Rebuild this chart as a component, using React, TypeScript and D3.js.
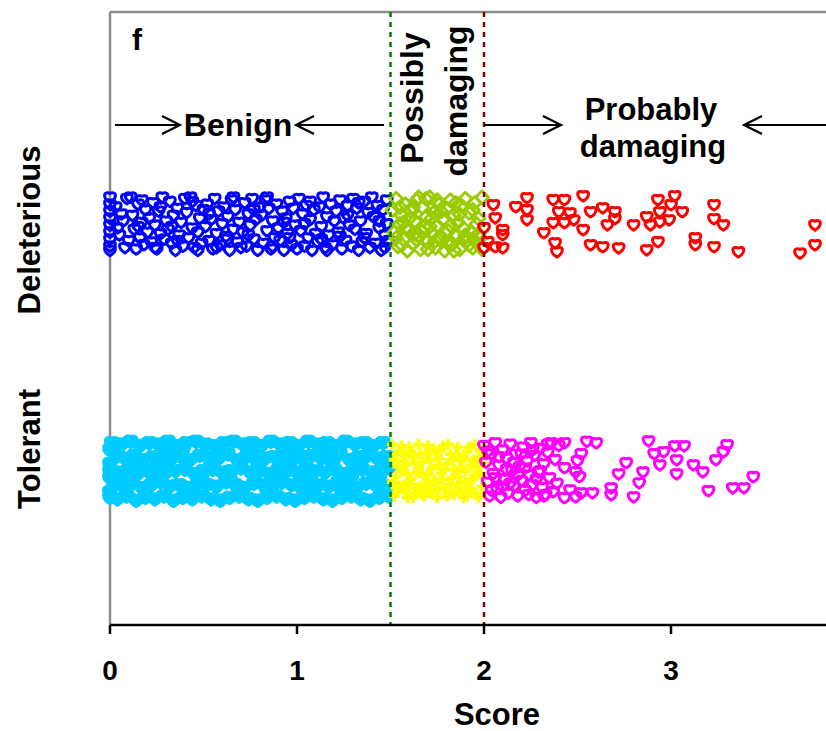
import React from "react";
import * as d3 from "d3";

// Score categories and groups
const GROUPS = ["Deleterious", "Tolerant"];
const X_TICKS = [0, 1, 2, 3];
const THRESH_POSSIBLY = 1.5;
const THRESH_PROBABLY = 2.0;

// [score, jitter] pairs, jitter in band units (-1..1)
const delBenign: [number, number][] = [
  [0,-0.95],[0,-0.7],[0,-0.45],[0,-0.2],[0,0.05],[0,0.3],[0,0.55],[0,0.8],[0,0.95],
  [0.03,-0.6],[0.05,0.4],[0.07,-0.1],[0.08,0.85],[0.09,-0.9],[0.04,0.15],[0.06,-0.35],[0.1,0.6],
  [0.11,-0.95],[0.12,-0.3],[0.13,0.2],[0.14,0.9],[0.15,-0.7],[0.16,0.5],[0.17,-0.05],[0.18,0.75],[0.19,-0.5],[0.2,0.3],[0.15,0.1],[0.17,-0.85],
  [0.21,-0.2],[0.22,0.65],[0.23,-0.75],[0.24,0.05],[0.25,0.9],[0.26,-0.45],[0.27,0.35],[0.28,-0.95],[0.29,0.55],[0.3,-0.1],[0.24,0.85],[0.27,-0.6],
  [0.31,0.2],[0.32,-0.8],[0.33,0.7],[0.34,-0.3],[0.35,0.95],[0.36,-0.55],[0.37,0.4],[0.38,-0.05],[0.39,0.8],[0.4,-0.9],[0.33,0.1],[0.36,0.6],
  [0.41,-0.4],[0.42,0.5],[0.43,-0.95],[0.44,0.15],[0.45,0.85],[0.46,-0.65],[0.47,0.3],[0.48,-0.2],[0.49,0.7],[0.5,-0.5],[0.44,-0.8],[0.47,0.95],
  [0.51,0.1],[0.52,-0.7],[0.53,0.6],[0.54,-0.15],[0.55,0.9],[0.56,-0.9],[0.57,0.35],[0.58,-0.45],[0.59,0.75],[0.6,0.0],[0.53,-0.35],[0.57,0.85],
  [0.61,-0.6],[0.62,0.45],[0.63,-0.25],[0.64,0.95],[0.65,-0.85],[0.66,0.2],[0.67,-0.5],[0.68,0.65],[0.69,-0.05],[0.7,0.85],[0.63,0.55],[0.66,-0.95],
  [0.71,0.3],[0.72,-0.75],[0.73,0.8],[0.74,-0.35],[0.75,0.05],[0.76,-0.9],[0.77,0.55],[0.78,-0.15],[0.79,0.95],[0.8,-0.6],[0.74,0.4],[0.77,-0.5],
  [0.81,-0.3],[0.82,0.7],[0.83,-0.85],[0.84,0.25],[0.85,-0.55],[0.86,0.9],[0.87,-0.1],[0.88,0.5],[0.89,-0.7],[0.9,0.15],[0.84,-0.95],[0.87,0.8],
  [0.91,0.6],[0.92,-0.45],[0.93,0.95],[0.94,-0.2],[0.95,0.35],[0.96,-0.8],[0.97,0.75],[0.98,-0.55],[0.99,0.05],[1.0,0.9],[0.93,-0.05],[0.96,0.5],
  [1.01,-0.9],[1.02,0.25],[1.03,-0.35],[1.04,0.8],[1.05,-0.65],[1.06,0.5],[1.07,-0.15],[1.08,0.95],[1.09,-0.5],[1.1,0.35],[1.04,0.0],[1.07,-0.8],
  [1.11,0.65],[1.12,-0.6],[1.13,0.1],[1.14,-0.95],[1.15,0.85],[1.16,-0.25],[1.17,0.4],[1.18,-0.7],[1.19,0.75],[1.2,-0.1],[1.13,0.55],[1.16,0.95],
  [1.21,-0.45],[1.22,0.3],[1.23,-0.85],[1.24,0.9],[1.25,-0.2],[1.26,0.6],[1.27,-0.65],[1.28,0.05],[1.29,0.8],[1.3,-0.9],[1.23,0.45],[1.27,-0.3],
  [1.31,0.2],[1.32,-0.55],[1.33,0.95],[1.34,-0.1],[1.35,0.65],[1.36,-0.8],[1.37,0.35],[1.38,-0.4],[1.39,0.85],[1.4,-0.95],[1.33,-0.75],[1.36,0.5],
  [1.41,-0.25],[1.42,0.7],[1.43,-0.65],[1.44,0.15],[1.45,0.95],[1.46,-0.5],[1.47,0.4],[1.48,-0.85],[1.49,0.6],[1.44,-0.1],[1.47,0.85],[1.48,0.0],
];

const delPossibly: [number, number][] = [
  [1.51,-0.5],[1.52,0.3],[1.53,-0.9],[1.54,0.8],[1.55,0.0],[1.56,-0.3],[1.57,0.55],[1.58,-0.7],[1.59,0.95],[1.6,0.2],
  [1.61,-0.45],[1.62,0.7],[1.63,-0.1],[1.64,-0.85],[1.65,0.4],[1.66,0.9],[1.67,-0.6],[1.68,0.1],[1.69,-0.25],[1.7,0.6],
  [1.71,-0.95],[1.72,0.35],[1.73,-0.4],[1.74,0.85],[1.75,0.05],[1.76,-0.7],[1.77,0.5],[1.78,-0.15],[1.79,0.95],[1.8,-0.55],
  [1.81,0.25],[1.82,-0.85],[1.83,0.7],[1.84,-0.3],[1.85,0.45],[1.86,-0.05],[1.87,0.9],[1.88,-0.65],[1.89,0.15],[1.9,-0.9],
  [1.91,0.6],[1.92,-0.4],[1.93,0.3],[1.94,0.85],[1.95,-0.75],[1.96,0.0],[1.97,-0.2],[1.98,0.5],[1.99,-0.95],[1.99,0.9],
  [1.53,0.5],[1.56,0.75],[1.58,0.15],[1.62,-0.6],[1.64,0.55],[1.67,0.25],[1.69,-0.9],[1.72,-0.2],[1.74,0.6],[1.77,-0.45],
  [1.79,0.3],[1.82,0.05],[1.84,0.95],[1.87,-0.35],[1.89,0.55],[1.92,0.75],[1.94,-0.5],[1.97,0.35],[1.55,-0.6],[1.6,-0.2],
  [1.65,-0.95],[1.7,0.9],[1.75,-0.85],[1.8,0.65],[1.85,-0.75],[1.9,0.4],[1.95,0.6],[1.57,-0.05],[1.63,0.35],[1.71,0.1],
];

const delProbably: [number, number][] = [
  [2.05,-0.68],[2.06,-0.21],[2.0,0.14],[2.17,-0.61],[2.23,-0.93],[2.23,-0.5],[2.23,-0.14],[2.1,0.21],[2.1,0.39],
  [2.02,0.64],[2.0,0.86],[2.06,0.82],[2.1,0.86],[2.32,0.32],[2.37,-0.86],[2.43,-0.86],[2.4,-0.43],[2.46,-0.39],
  [2.37,-0.04],[2.43,-0.04],[2.48,-0.14],[2.38,0.68],[2.39,1.0],[2.53,-1.0],[2.57,-0.43],[2.57,0.75],[2.53,0.21],
  [2.635,-0.57],[2.7,-0.43],[2.66,0.04],[2.7,-0.18],[2.8,0.04],[2.93,-0.86],[3.02,-1.0],[3.0,-0.68],[2.94,-0.43],
  [3.06,-0.43],[2.87,-0.25],[2.89,0.04],[2.94,-0.07],[2.99,-0.14],[3.23,-0.68],[3.23,-0.18],[3.28,0.04],[3.77,0.04],
  [2.635,0.82],[2.72,0.86],[2.87,0.93],[2.93,0.64],[3.13,0.5],[3.13,0.75],[3.23,0.82],[3.36,1.0],[3.69,1.05],[3.77,0.75],
];

const tolBenign: [number, number][] = [
  [0.01,-1.0],[0.06,-0.95],[0.11,-1.05],[0.16,-0.9],[0.21,-1.0],[0.26,-0.95],[0.31,-1.05],[0.36,-0.9],[0.41,-1.0],[0.46,-1.05],
  [0.51,-0.95],[0.56,-0.9],[0.61,-1.0],[0.66,-1.05],[0.71,-0.95],[0.76,-1.0],[0.81,-0.9],[0.86,-1.05],[0.91,-0.95],[0.96,-1.0],
  [1.01,-0.9],[1.06,-1.05],[1.11,-0.95],[1.16,-1.0],[1.21,-0.9],[1.26,-1.05],[1.31,-0.95],[1.36,-1.0],[1.41,-0.9],[1.46,-1.0],
  [0.03,-0.5],[0.08,-0.45],[0.13,-0.55],[0.18,-0.4],[0.23,-0.5],[0.28,-0.6],[0.33,-0.45],[0.38,-0.5],[0.43,-0.4],[0.48,-0.55],
  [0.53,-0.5],[0.58,-0.45],[0.63,-0.6],[0.68,-0.4],[0.73,-0.5],[0.78,-0.55],[0.83,-0.45],[0.88,-0.5],[0.93,-0.6],[0.98,-0.4],
  [1.03,-0.5],[1.08,-0.55],[1.13,-0.45],[1.18,-0.5],[1.23,-0.6],[1.28,-0.4],[1.33,-0.5],[1.38,-0.55],[1.43,-0.45],[1.48,-0.5],
  [0.0,0.0],[0.05,0.05],[0.1,-0.05],[0.15,0.1],[0.2,0.0],[0.25,-0.1],[0.3,0.05],[0.35,0.0],[0.4,-0.05],[0.45,0.1],
  [0.5,0.0],[0.55,-0.05],[0.6,0.05],[0.65,0.0],[0.7,-0.1],[0.75,0.05],[0.8,0.0],[0.85,0.1],[0.9,-0.05],[0.95,0.0],
  [1.0,0.05],[1.05,-0.1],[1.1,0.0],[1.15,0.05],[1.2,-0.05],[1.25,0.1],[1.3,0.0],[1.35,-0.05],[1.4,0.05],[1.45,0.0],[1.49,-0.1],
  [0.02,0.5],[0.07,0.55],[0.12,0.45],[0.17,0.6],[0.22,0.5],[0.27,0.4],[0.32,0.55],[0.37,0.5],[0.42,0.6],[0.47,0.45],
  [0.52,0.5],[0.57,0.55],[0.62,0.4],[0.67,0.5],[0.72,0.6],[0.77,0.45],[0.82,0.5],[0.87,0.55],[0.92,0.4],[0.97,0.5],
  [1.02,0.6],[1.07,0.45],[1.12,0.5],[1.17,0.55],[1.22,0.4],[1.27,0.5],[1.32,0.6],[1.37,0.45],[1.42,0.5],[1.47,0.55],
  [0.0,0.95],[0.04,1.0],[0.09,0.9],[0.14,1.05],[0.19,0.95],[0.24,1.0],[0.29,0.9],[0.34,1.05],[0.39,0.95],[0.44,1.0],
  [0.49,0.9],[0.54,1.0],[0.59,1.05],[0.64,0.95],[0.69,0.9],[0.74,1.0],[0.79,1.05],[0.84,0.95],[0.89,0.9],[0.94,1.0],
  [0.99,1.05],[1.04,0.95],[1.09,0.9],[1.14,1.0],[1.19,1.05],[1.24,0.95],[1.29,0.9],[1.34,1.0],[1.39,1.05],[1.44,0.95],[1.49,0.9],
  [0,-0.75],[0,-0.25],[0,0.25],[0,0.75],
  [0.04,-0.75],[0.14,-0.25],[0.24,0.25],[0.34,-0.75],[0.44,0.75],[0.54,-0.25],[0.64,0.25],[0.74,-0.75],[0.84,0.75],[0.94,-0.25],
  [1.04,0.25],[1.14,-0.75],[1.24,0.75],[1.34,-0.25],[1.44,0.25],[0.09,0.25],[0.19,0.75],[0.29,-0.25],[0.39,-0.75],[0.49,0.25],
  [0.59,-0.75],[0.69,0.75],[0.79,-0.25],[0.89,0.25],[0.99,-0.75],[1.09,0.75],[1.19,-0.25],[1.29,0.25],[1.39,-0.75],[1.48,0.75],
];

const tolPossibly: [number, number][] = [
  [1.51,-0.95],[1.52,-0.4],[1.53,0.2],[1.54,0.75],[1.55,-0.7],[1.56,0.0],[1.57,0.5],[1.58,-0.2],[1.59,0.95],[1.6,-0.85],
  [1.61,0.3],[1.62,-0.5],[1.63,0.8],[1.64,0.05],[1.65,-0.95],[1.66,0.55],[1.67,-0.3],[1.68,0.9],[1.69,-0.65],[1.7,0.15],
  [1.71,0.7],[1.72,-0.1],[1.73,-0.8],[1.74,0.4],[1.75,0.95],[1.76,-0.45],[1.77,0.1],[1.78,-0.9],[1.79,0.6],[1.8,-0.25],
  [1.81,0.85],[1.82,-0.6],[1.83,0.25],[1.84,-0.05],[1.85,0.7],[1.86,-0.85],[1.87,0.45],[1.88,-0.35],[1.89,0.95],[1.9,0.0],
  [1.91,-0.7],[1.92,0.6],[1.93,-0.2],[1.94,0.3],[1.95,-0.95],[1.96,0.8],[1.97,-0.5],[1.98,0.1],[1.99,0.55],[1.99,-0.3],
  [1.51,0.4],[1.52,0.9],[1.53,-0.6],[1.54,-0.15],[1.55,0.55],[1.56,-0.9],[1.57,-0.35],[1.58,0.7],[1.59,0.1],[1.6,0.45],
  [1.61,-0.7],[1.62,0.95],[1.63,-0.3],[1.64,0.6],[1.65,-0.05],[1.66,-0.6],[1.67,0.85],[1.68,0.2],[1.69,0.5],[1.7,-0.9],
  [1.71,-0.4],[1.72,0.8],[1.73,0.35],[1.74,-0.65],[1.75,-0.2],[1.76,0.65],[1.77,-0.75],[1.78,0.3],[1.79,-0.05],[1.8,0.9],
  [1.81,-0.95],[1.82,0.5],[1.83,-0.4],[1.84,0.85],[1.85,-0.6],[1.86,0.2],[1.87,-0.1],[1.88,0.75],[1.89,-0.5],[1.9,0.4],
  [1.91,0.9],[1.92,-0.85],[1.93,0.65],[1.94,-0.4],[1.95,0.15],[1.96,-0.15],[1.97,0.95],[1.98,-0.75],[1.53,0.6],[1.58,-0.55],
];

const tolProbably: [number, number][] = [
  [2.0,-0.9],[2.01,-0.3],[2.02,0.4],[2.03,0.9],[2.04,-0.6],[2.05,0.1],[2.06,-1.0],[2.07,0.65],[2.08,-0.2],[2.09,0.95],
  [2.1,-0.75],[2.11,0.3],[2.12,-0.45],[2.13,0.8],[2.14,-0.95],[2.15,0.0],[2.16,0.55],[2.17,-0.6],[2.18,0.9],[2.19,-0.15],
  [2.2,0.35],[2.21,-0.85],[2.22,0.7],[2.23,-0.35],[2.24,0.15],[2.25,-1.0],[2.26,0.5],[2.27,-0.55],[2.28,0.95],[2.29,0.05],
  [2.3,-0.8],[2.31,0.6],[2.32,-0.25],[2.33,0.85],[2.34,-0.65],[2.35,0.25],[2.36,-1.0],[2.37,0.75],[2.38,-0.4],[2.39,0.45],
  [2.4,-0.9],[2.02,-0.7],[2.04,0.7],[2.06,0.25],[2.08,-0.5],[2.1,0.55],[2.12,-0.05],[2.14,0.45],[2.16,-0.3],[2.18,0.15],
  [2.2,-0.6],[2.22,-0.1],[2.24,0.85],[2.26,-0.75],[2.28,0.3],[2.3,0.0],[2.32,0.9],[2.34,-0.95],
  [2.43,-1.0],[2.55,-1.05],[2.6,-1.0],[2.88,-1.07],[2.91,-0.61],[2.96,-0.68],[3.02,-0.89],[3.07,-0.89],[3.3,-0.93],
  [3.28,-0.68],[3.24,-0.39],[2.52,-0.61],[2.5,-0.36],[2.43,-0.11],[2.49,0.04],[2.51,0.21],[2.76,-0.29],[2.72,0.11],
  [2.85,0.04],[2.94,-0.21],[3.03,-0.39],[3.03,0.11],[3.12,-0.21],[3.17,0.04],[3.44,0.21],[2.83,0.43],[2.46,0.68],
  [2.52,0.79],[2.58,0.79],[2.68,0.61],[2.68,0.86],[2.8,0.93],[3.2,0.71],[3.33,0.61],[3.39,0.61],[2.43,0.96],[2.49,0.93],
];

const W = 826;
const H = 731;
const PLOT_TOP = 12;
const AXIS_Y = 625;
const X0 = 110;
const JITTER = 28;
const FONT = "'Liberation Sans', Arial, Helvetica, sans-serif";

const xScale = d3.scaleLinear().domain([0, (W - X0) / 187]).range([X0, W]);
const yScale = d3.scalePoint<string>().domain(GROUPS).range([224, 471]);

// rounded triangular marker with a shallow notch on top
const SHIELD =
  "M0,-3.9 C-1.8,-5 -5.4,-4.9 -5.4,-2 C-5.4,0.8 -2.6,3.6 0,5.1 C2.6,3.6 5.4,0.8 5.4,-2 C5.4,-4.9 1.8,-5 0,-3.9 Z";
const DIAMOND = d3.symbol(d3.symbolDiamond2, 110)() as string;
const PLUS = "M-1.9,-5.4 H1.9 V-1.9 H5.4 V1.9 H1.9 V5.4 H-1.9 V1.9 H-5.4 V-1.9 H-1.9 Z";

type Series = {
  data: [number, number][];
  group: string;
  path: string;
  fill: string;
  stroke: string;
  sw: number;
};

const SERIES: Series[] = [
  { data: delBenign, group: "Deleterious", path: SHIELD, fill: "none", stroke: "#0000ff", sw: 3 },
  { data: delPossibly, group: "Deleterious", path: DIAMOND, fill: "none", stroke: "#99cc00", sw: 2.8 },
  { data: delProbably, group: "Deleterious", path: SHIELD, fill: "none", stroke: "#ff0000", sw: 3 },
  { data: tolBenign, group: "Tolerant", path: SHIELD, fill: "#00ccff", stroke: "#00ccff", sw: 5 },
  { data: tolPossibly, group: "Tolerant", path: PLUS, fill: "#ffff00", stroke: "none", sw: 0 },
  { data: tolProbably, group: "Tolerant", path: SHIELD, fill: "none", stroke: "#ff00ff", sw: 3 },
];

function Arrow({ from, to, y }: { from: number; to: number; y: number }) {
  const dir = Math.sign(to - from);
  return (
    <g stroke="#000" strokeWidth={2.2} fill="none">
      <line x1={from} y1={y} x2={to} y2={y} />
      <polyline points={`${to - dir * 18},${y - 9} ${to},${y} ${to - dir * 18},${y + 9}`} />
    </g>
  );
}

export default function App() {
  const bold = { fontFamily: FONT, fontWeight: 700, fill: "#000" } as const;
  return (
    <svg
      width={W}
      height={H}
      style={{ position: "absolute", left: 0, top: 0, background: "#fff" }}
    >
      {/* frame */}
      <line x1={X0} y1={PLOT_TOP} x2={W} y2={PLOT_TOP} stroke="#8c8c8c" strokeWidth={2.5} />
      <line x1={X0} y1={PLOT_TOP} x2={X0} y2={AXIS_Y} stroke="#8c8c8c" strokeWidth={2.5} />

      {/* points */}
      {SERIES.map((s, si) => (
        <g key={si}>
          {s.data.map(([v, j], i) => (
            <path
              key={i}
              d={s.path}
              transform={`translate(${xScale(v)},${(yScale(s.group) as number) + j * JITTER})`}
              fill={s.fill}
              stroke={s.stroke}
              strokeWidth={s.sw}
              strokeLinejoin="round"
            />
          ))}
        </g>
      ))}

      {/* thresholds */}
      <line
        x1={xScale(THRESH_POSSIBLY)} x2={xScale(THRESH_POSSIBLY)} y1={PLOT_TOP} y2={AXIS_Y}
        stroke="#008000" strokeWidth={2.5} strokeDasharray="5 5"
      />
      <line
        x1={xScale(THRESH_PROBABLY)} x2={xScale(THRESH_PROBABLY)} y1={PLOT_TOP} y2={AXIS_Y}
        stroke="#800000" strokeWidth={2.5} strokeDasharray="5 5"
      />

      {/* x axis */}
      <line x1={X0} y1={AXIS_Y} x2={W} y2={AXIS_Y} stroke="#000" strokeWidth={2.5} />
      {X_TICKS.map((t) => (
        <g key={t}>
          <line x1={xScale(t)} x2={xScale(t)} y1={AXIS_Y} y2={AXIS_Y + 9} stroke="#000" strokeWidth={2.5} />
          <text x={xScale(t)} y={680} textAnchor="middle" fontSize={28} {...bold}>
            {t}
          </text>
        </g>
      ))}
      <text x={497} y={725} textAnchor="middle" fontSize={31} {...bold}>Score</text>

      {/* group labels */}
      {GROUPS.map((g, i) => (
        <text
          key={g}
          transform={`translate(40,${i === 0 ? 230 : 449}) rotate(-90)`}
          textAnchor="middle"
          fontSize={31}
          {...bold}
        >
          {g}
        </text>
      ))}

      {/* panel letter */}
      <text x={132} y={50} fontSize={30} {...bold}>f</text>

      {/* region annotations */}
      <Arrow from={115} to={180} y={125} />
      <Arrow from={384} to={296} y={125} />
      <text x={238} y={136} textAnchor="middle" fontSize={32} {...bold}>Benign</text>

      <text transform="translate(423,98) rotate(-90)" textAnchor="middle" fontSize={32} {...bold}>Possibly</text>
      <text transform="translate(467,101) rotate(-90)" textAnchor="middle" fontSize={32} {...bold}>damaging</text>

      <Arrow from={484} to={561} y={125} />
      <Arrow from={W} to={744} y={125} />
      <text x={651} y={120} textAnchor="middle" fontSize={31} {...bold}>Probably</text>
      <text x={653} y={157} textAnchor="middle" fontSize={31} {...bold}>damaging</text>
    </svg>
  );
}
